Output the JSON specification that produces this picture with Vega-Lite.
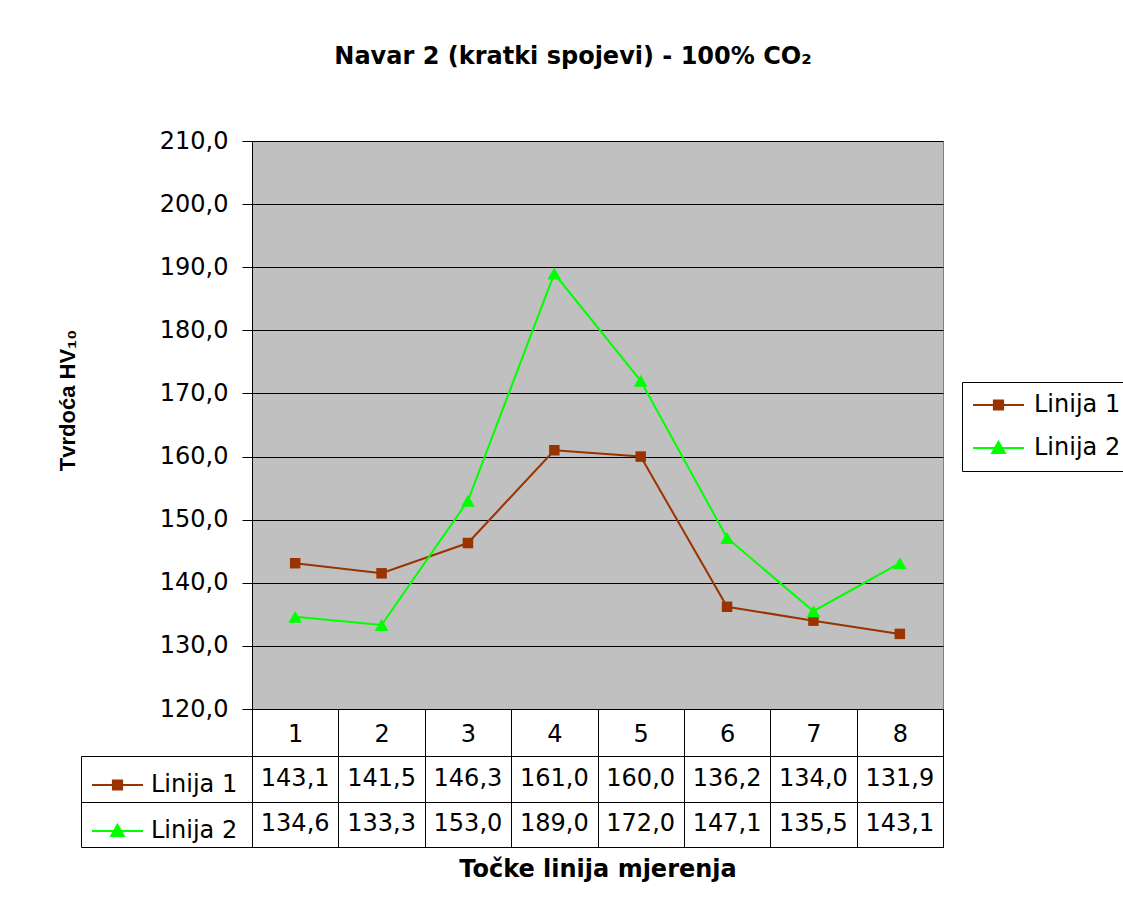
{
  "$schema": "https://vega.github.io/schema/vega-lite/v6.json",
  "autosize": {"type": "none"},
  "padding": {"left": 252, "top": 141, "right": 871, "bottom": 775},
  "background": "white",
  "config": {
    "locale": {"number": {"decimal": ",", "thousands": ".", "grouping": [3], "currency": ["", ""]}},
    "font": "DejaVu Sans",
    "axis": {"labelFont": "DejaVu Sans", "labelColor": "black", "titleColor": "black"},
    "legend": {"labelFont": "DejaVu Sans", "labelColor": "black", "symbolOpacity": 1}
  },
  "datasets": {
    "tvrdoca": [
      {"tocka": "1", "serija": "Linija 1", "hv": 143.1},
      {"tocka": "2", "serija": "Linija 1", "hv": 141.5},
      {"tocka": "3", "serija": "Linija 1", "hv": 146.3},
      {"tocka": "4", "serija": "Linija 1", "hv": 161.0},
      {"tocka": "5", "serija": "Linija 1", "hv": 160.0},
      {"tocka": "6", "serija": "Linija 1", "hv": 136.2},
      {"tocka": "7", "serija": "Linija 1", "hv": 134.0},
      {"tocka": "8", "serija": "Linija 1", "hv": 131.9},
      {"tocka": "1", "serija": "Linija 2", "hv": 134.6},
      {"tocka": "2", "serija": "Linija 2", "hv": 133.3},
      {"tocka": "3", "serija": "Linija 2", "hv": 153.0},
      {"tocka": "4", "serija": "Linija 2", "hv": 189.0},
      {"tocka": "5", "serija": "Linija 2", "hv": 172.0},
      {"tocka": "6", "serija": "Linija 2", "hv": 147.1},
      {"tocka": "7", "serija": "Linija 2", "hv": 135.5},
      {"tocka": "8", "serija": "Linija 2", "hv": 143.1}
    ]
  },
  "bounds": "flush",
  "spacing": 47,
  "resolve": {"legend": {"fill": "independent", "stroke": "independent", "shape": "independent"}},
  "vconcat": [
    {
      "width": 691,
      "height": 568,
      "view": {"fill": "#C0C0C0", "stroke": "#808080", "strokeWidth": 1},
      "title": {
        "text": "Navar 2 (kratki spojevi) - 100% CO₂",
        "anchor": "middle",
        "frame": "group",
        "dx": -24.5,
        "offset": 60,
        "font": "DejaVu Sans",
        "fontSize": 24,
        "fontWeight": "bold",
        "color": "black"
      },
      "data": {"name": "tvrdoca"},
      "encoding": {
        "x": {
          "field": "tocka",
          "type": "ordinal",
          "scale": {"type": "band", "domain": ["1", "2", "3", "4", "5", "6", "7", "8"], "paddingInner": 0, "paddingOuter": 0},
          "axis": {
            "title": null,
            "orient": "bottom",
            "tickBand": "extent",
            "tickSize": 47,
            "tickColor": "black",
            "tickWidth": 1,
            "domainColor": "black",
            "domainWidth": 1,
            "labelFontSize": 24,
            "labelAngle": 0,
            "labelBaseline": "middle",
            "labelPadding": -21.5,
            "grid": false
          }
        },
        "y": {
          "field": "hv",
          "type": "quantitative",
          "scale": {"domain": [120, 210], "nice": false, "zero": false},
          "axis": {
            "title": "Tvrdoća HV₁₀",
            "titleFont": "Liberation Sans",
            "titleFontSize": 22,
            "titleFontWeight": "bold",
            "titlePadding": 80,
            "titleY": 259,
            "values": [120, 130, 140, 150, 160, 170, 180, 190, 200, 210],
            "format": ".1f",
            "labelFontSize": 24,
            "labelPadding": 14,
            "tickSize": 10,
            "tickColor": "black",
            "domainColor": "black",
            "grid": true,
            "gridColor": "black",
            "gridWidth": 1,
            "gridOpacity": 1
          }
        }
      },
      "layer": [
        {
          "mark": {"type": "line", "strokeWidth": 2},
          "encoding": {
            "stroke": {
              "field": "serija",
              "type": "nominal",
              "scale": {"domain": ["Linija 1", "Linija 2"], "range": ["#993300", "#00FF00"]},
              "legend": {
                "title": null,
                "orient": "none",
                "legendX": 710,
                "legendY": 241,
                "padding": 10,
                "strokeColor": "black",
                "fillColor": "white",
                "symbolSize": 2601,
                "symbolStrokeWidth": 2,
                "clipHeight": 26,
                "rowPadding": 17,
                "labelOffset": 9,
                "labelFontSize": 24
              }
            }
          }
        },
        {
          "mark": {"type": "point", "filled": true, "opacity": 1},
          "encoding": {
            "fill": {
              "field": "serija",
              "type": "nominal",
              "scale": {"domain": ["Linija 1", "Linija 2"], "range": ["#993300", "#00FF00"]},
              "legend": {
                "title": null,
                "orient": "none",
                "legendX": 710,
                "legendY": 241,
                "padding": 10,
                "strokeColor": "black",
                "fillColor": "white",
                "symbolSize": 2601,
                "symbolStrokeWidth": 2,
                "clipHeight": 26,
                "rowPadding": 17,
                "labelOffset": 9,
                "labelFontSize": 24
              }
            },
            "shape": {
              "condition": {"test": "datum.serija === 'Linija 1'", "value": "square"},
              "value": "triangle-up"
            },
            "size": {
              "condition": {"test": "datum.serija === 'Linija 1'", "value": 110},
              "value": 190
            }
          }
        },
        {
          "transform": [{"filter": "datum.hv < 0"}],
          "mark": {"type": "point", "filled": true, "opacity": 1},
          "encoding": {
            "shape": {
              "field": "serija",
              "type": "nominal",
              "scale": {
                "domain": ["Linija 1", "Linija 2"],
                "range": ["M-1,0H1M-0.18,-0.18H0.18V0.18H-0.18Z", "M-1,0H1M0,-0.24L0.25,0.2H-0.25Z"]
              },
              "legend": {
                "title": null,
                "orient": "none",
                "legendX": 710,
                "legendY": 241,
                "padding": 10,
                "strokeColor": "black",
                "fillColor": "white",
                "symbolSize": 2601,
                "symbolStrokeWidth": 2,
                "clipHeight": 26,
                "rowPadding": 17,
                "labelOffset": 9,
                "labelFontSize": 24
              }
            }
          }
        }
      ]
    },
    {
      "width": 691,
      "height": 91,
      "view": {"fill": "white", "stroke": "black", "strokeWidth": 1},
      "data": {"name": "tvrdoca"},
      "encoding": {
        "x": {
          "field": "tocka",
          "type": "ordinal",
          "scale": {"type": "band", "domain": ["1", "2", "3", "4", "5", "6", "7", "8"], "paddingInner": 0, "paddingOuter": 0},
          "axis": {
            "title": "Točke linija mjerenja",
            "titleFont": "DejaVu Sans",
            "titleFontSize": 24,
            "titleFontWeight": "bold",
            "titlePadding": 10,
            "labels": false,
            "ticks": false,
            "domain": false,
            "grid": true,
            "tickBand": "extent",
            "gridColor": "black",
            "gridOpacity": 1,
            "gridWidth": 1
          }
        },
        "y": {
          "field": "serija",
          "type": "nominal",
          "scale": {"type": "band", "domain": ["Linija 1", "Linija 2"], "paddingInner": 0, "paddingOuter": 0},
          "axis": {
            "title": null,
            "labels": false,
            "offset": 171,
            "tickBand": "extent",
            "tickSize": -862,
            "tickColor": "black",
            "domainColor": "black",
            "grid": false
          }
        }
      },
      "layer": [
        {
          "mark": {"type": "text", "fontSize": 24, "font": "DejaVu Sans", "color": "black", "baseline": "middle"},
          "encoding": {
            "text": {"field": "hv", "type": "quantitative", "format": ".1f"}
          }
        },
        {
          "transform": [{"filter": "datum.hv < 0"}],
          "mark": {"type": "point", "filled": true, "opacity": 1},
          "encoding": {
            "fill": {
              "field": "serija",
              "type": "nominal",
              "scale": {"domain": ["Linija 1", "Linija 2"], "range": ["#993300", "#00FF00"]},
              "legend": {
                "title": null,
                "orient": "none",
                "legendX": -161,
                "legendY": 17,
                "padding": 0,
                "symbolSize": 2601,
                "symbolStrokeWidth": 2,
                "clipHeight": 24,
                "rowPadding": 22,
                "labelOffset": 7,
                "labelFontSize": 24
              }
            },
            "stroke": {
              "field": "serija",
              "type": "nominal",
              "scale": {"domain": ["Linija 1", "Linija 2"], "range": ["#993300", "#00FF00"]},
              "legend": {
                "title": null,
                "orient": "none",
                "legendX": -161,
                "legendY": 17,
                "padding": 0,
                "symbolSize": 2601,
                "symbolStrokeWidth": 2,
                "clipHeight": 24,
                "rowPadding": 22,
                "labelOffset": 7,
                "labelFontSize": 24
              }
            },
            "shape": {
              "field": "serija",
              "type": "nominal",
              "scale": {
                "domain": ["Linija 1", "Linija 2"],
                "range": ["M-1,0H1M-0.18,-0.18H0.18V0.18H-0.18Z", "M-1,0H1M0,-0.24L0.25,0.2H-0.25Z"]
              },
              "legend": {
                "title": null,
                "orient": "none",
                "legendX": -161,
                "legendY": 17,
                "padding": 0,
                "symbolSize": 2601,
                "symbolStrokeWidth": 2,
                "clipHeight": 24,
                "rowPadding": 22,
                "labelOffset": 7,
                "labelFontSize": 24
              }
            }
          }
        }
      ]
    }
  ]
}
